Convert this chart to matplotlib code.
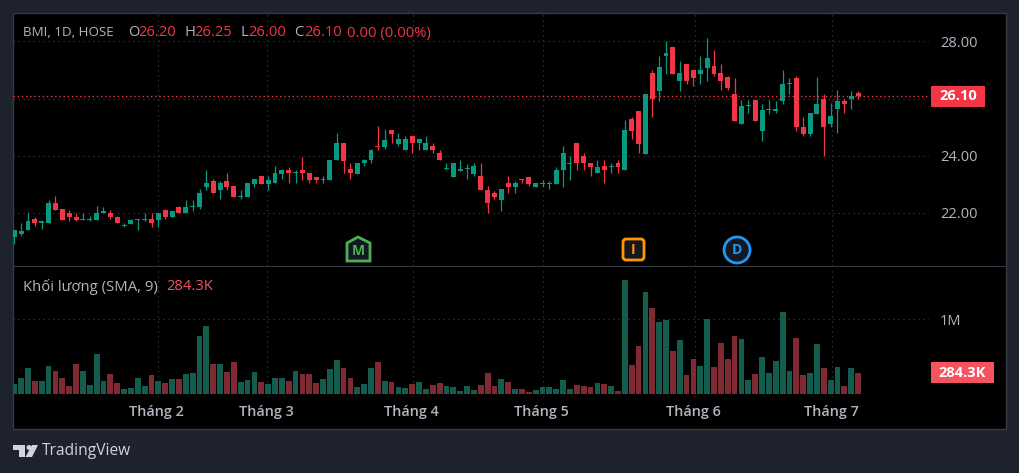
import numpy as np
import matplotlib
matplotlib.use("Agg")
from matplotlib import pyplot as plt
from matplotlib.patches import Rectangle, FancyBboxPatch, Polygon, Ellipse

W, H = 1019, 473

opens = [21.15,21.25,21.4,21.8,21.65,21.65,22.35,22.15,22.0,21.85,21.75,21.75,21.75,22.0,22.0,21.85,21.55,21.6,21.75,21.75,
21.8,21.75,22.1,21.85,22.2,22.0,22.2,22.2,22.9,23.1,22.8,23.1,22.95,22.55,22.55,23.0,23.3,23.0,23.05,23.35,
23.5,23.4,23.5,23.4,23.25,23.15,23.15,23.85,24.45,23.55,23.35,23.75,23.85,24.35,24.3,24.9,24.4,24.2,24.7,24.45,
24.2,24.35,24.1,23.55,23.25,23.45,23.55,23.35,23.3,22.8,22.7,22.45,23.05,22.9,23.2,23.25,22.9,23.0,23.0,23.0,
23.5,23.7,24.45,24.0,23.75,23.4,23.65,23.6,23.75,23.5,25.3,25.55,24.05,26.9,26.25,27.5,27.8,26.6,27.2,27.0,
26.85,27.05,27.15,26.9,26.75,26.15,25.1,25.75,25.95,24.85,25.6,25.55,25.9,26.5,26.7,25.0,24.75,25.45,26.0,25.1,
25.65,25.9,26.0,26.2]
highs = [21.4,21.65,22.0,21.85,21.7,22.45,22.6,22.15,22.1,22.0,22.0,21.9,22.25,22.2,22.1,21.9,21.65,21.8,21.8,22.0,
22.0,22.0,22.15,22.05,22.25,22.45,22.45,22.85,23.5,23.2,23.1,23.4,22.95,22.8,23.05,23.2,23.3,23.3,23.65,23.55,
23.6,23.5,23.95,23.4,23.25,23.3,23.85,24.8,24.45,23.75,23.75,23.9,24.25,25.05,24.95,24.9,24.8,24.7,24.7,24.6,
24.7,24.45,24.2,23.75,23.75,23.85,23.7,23.75,23.75,22.95,22.75,22.85,23.3,23.1,23.2,23.25,23.05,23.15,23.1,23.6,
24.35,24.0,24.45,24.1,23.75,23.85,23.85,23.75,23.85,25.25,25.35,25.55,26.15,27.0,27.5,28.0,27.8,27.3,27.2,27.0,
27.5,28.1,27.7,27.2,26.8,26.7,25.95,25.95,25.95,25.8,25.95,25.9,27.0,26.7,26.8,25.35,25.5,26.75,26.15,25.85,
26.3,26.0,26.25,26.25]
lows = [20.9,21.2,21.4,21.55,21.45,21.65,22.1,21.75,21.7,21.7,21.75,21.7,21.75,22.0,21.8,21.65,21.5,21.6,21.4,21.7,
21.5,21.5,21.8,21.85,22.0,22.0,22.05,22.15,22.8,22.7,22.5,22.8,22.55,22.5,22.55,22.9,23.0,22.8,23.05,23.2,
23.05,23.05,23.15,23.05,23.05,23.05,23.15,23.85,23.4,23.2,23.35,23.65,23.75,24.2,24.25,24.45,24.35,24.2,24.1,24.2,
24.2,24.1,23.85,23.5,23.25,23.45,23.2,23.3,22.8,22.0,22.5,22.05,22.7,22.7,23.05,22.95,22.9,22.9,22.85,23.0,
22.9,23.15,23.5,23.5,23.3,23.4,23.05,23.4,23.4,23.5,24.6,24.1,24.05,25.35,25.9,26.85,26.85,26.25,26.5,26.45,
26.5,26.6,26.8,26.3,26.3,25.2,25.1,25.5,25.2,24.5,25.45,25.5,25.8,26.15,24.85,24.7,24.7,25.45,24.0,25.0,
24.8,25.5,25.65,26.0]
closes = [21.4,21.35,21.7,21.65,21.7,22.35,22.1,21.75,21.85,21.75,21.75,21.8,22.0,22.05,21.85,21.65,21.55,21.75,21.8,21.8,
21.65,22.0,21.85,22.05,22.0,22.2,22.25,22.7,23.05,22.7,23.05,22.9,22.55,22.6,23.05,23.2,23.0,23.15,23.4,23.5,
23.4,23.4,23.4,23.15,23.15,23.2,23.85,24.45,23.8,23.4,23.75,23.85,24.2,24.3,24.55,24.75,24.6,24.6,24.45,24.6,
24.45,24.2,23.85,23.55,23.75,23.55,23.55,23.65,22.8,22.35,22.55,22.85,22.9,23.05,23.15,23.0,23.05,23.05,23.05,23.5,
24.1,23.75,23.75,23.75,23.6,23.6,23.5,23.6,23.6,24.9,24.85,24.4,26.15,26.0,27.1,27.6,26.85,26.9,26.6,26.7,
27.0,27.4,26.85,26.6,26.35,25.2,25.75,25.75,25.2,25.6,25.6,25.65,26.5,26.5,25.0,24.75,25.5,25.8,25.0,25.4,
25.9,25.8,26.1,26.1]
# volume in thousands
volumes = [134,214,348,174,174,375,308,214,107,402,308,121,536,174,268,147,67,80,214,107,
254,174,147,201,201,268,281,777,911,402,402,295,429,161,188,295,161,134,214,214,
174,308,268,268,147,201,335,455,348,214,94,134,348,429,174,161,94,80,134,161,
67,121,147,107,94,40,107,54,121,281,107,201,161,67,67,27,54,94,94,67,
188,67,121,107,94,147,134,107,40,1527,388,643,1366,1152,964,991,576,723,254,469,
375,1004,362,683,469,777,737,188,268,496,281,442,1098,308,750,254,281,670,348,188,
362,107,348,284.3]

price_ticks = [22, 24, 26, 28]
price_labels = ["22.00", "24.00", "", "28.00"]  # 26.00 sits behind the last price tag
month_pos = [20.9, 36.9, 58.1, 77.0, 99.2, 119.2]
month_labels = ["Tháng 2", "Tháng 3", "Tháng 4", "Tháng 5", "Tháng 6", "Tháng 7"]
last_price = 26.10
last_vol = 284.3

FRAME = "#1e222d"
GRID = "#3a3a3a"
TXT = "#b2b5be"
UP = "#089981"
DOWN = "#f23645"
UP_V = "#135c4e"
DOWN_V = "#7f2a33"
ICON_BG = "#131722"
plt.rcParams["font.family"] = ["Open Sans", "DejaVu Sans"]


def px_axes(fig, x0, y0, x1, y1):
    ax = fig.add_axes([x0 / W, 1 - y1 / H, (x1 - x0) / W, (y1 - y0) / H])
    ax.patch.set_alpha(0)
    return ax


def ptext(fig, x, y, s, color=TXT, size=10.7, **kw):
    kw.setdefault("va", "center")
    return fig.text(x / W, 1 - y / H, s, color=color, fontsize=size, **kw)


def pxs(pts):
    return [(a / W, 1 - b / H) for a, b in pts]


def draw_candles(ax):
    for i in range(len(opens)):
        c = UP if closes[i] >= opens[i] else DOWN
        ax.vlines(i, lows[i], highs[i], color=c, lw=0.9, zorder=3)
        lo = min(opens[i], closes[i])
        hi = max(opens[i], closes[i])
        ax.add_patch(Rectangle((i - 0.36, lo), 0.72, max(hi - lo, 0.035), fc=c, ec="none", zorder=4))


def draw_volume(ax):
    cols = [UP_V if closes[i] >= opens[i] else DOWN_V for i in range(len(opens))]
    ax.bar(range(len(volumes)), np.array(volumes) / 1000, width=0.84, color=cols, zorder=3)


def style_pane(ax):
    for s in ax.spines.values():
        s.set_visible(False)
    ax.tick_params(length=0)
    ax.set_xticks(month_pos)
    ax.set_xticklabels([])
    ax.grid(True, color=GRID, lw=0.9, linestyle=(0, (1, 3)), zorder=0)
    ax.set_axisbelow(True)


def draw_logo(fig):
    c = "#d1d4dc"
    tf = fig.transFigure
    fig.add_artist(Polygon(pxs([(13, 445), (25, 445), (25, 457), (19, 457), (19, 450), (13, 450)]), closed=True, fc=c, ec="none", transform=tf))
    fig.add_artist(Ellipse((29 / W, 1 - 447.5 / H), 5 / W, 5 / H, fc=c, ec="none", transform=tf))
    fig.add_artist(Polygon(pxs([(32, 445), (38, 445), (32, 457), (25.5, 457)]), closed=True, fc=c, ec="none", transform=tf))


def main():
    fig = plt.figure(figsize=(W / 100, H / 100), dpi=100, facecolor=FRAME)
    tf = fig.transFigure
    # black chart area with thin border, behind the panes
    fig.add_artist(Rectangle((12.5 / W, 1 - 429 / H), 993.5 / W, 416 / H, fc="black", ec="#363a45", lw=1,
                             transform=tf, zorder=-5))

    ax = px_axes(fig, 13, 14, 929, 266)
    vx = px_axes(fig, 13, 267, 929, 397)
    style_pane(ax)
    style_pane(vx)
    x0 = (13 - 14.3) / 6.86
    x1 = (929 - 14.3) / 6.86
    ax.set_xlim(x0, x1)
    vx.set_xlim(x0, x1)
    ax.set_ylim(28 - (266 - 41.3) / 28.6, 28 + (41.3 - 14) / 28.6)
    vx.set_ylim(-3 / 74.7, 127 / 74.7)

    ax.set_yticks(price_ticks)
    ax.yaxis.tick_right()
    ax.set_yticklabels(price_labels, color=TXT, fontsize=10.5)
    ax.tick_params(axis="y", pad=8)
    vx.set_yticks([1])
    vx.yaxis.tick_right()
    vx.set_yticklabels(["1M"], color=TXT, fontsize=10.5)
    vx.tick_params(axis="y", pad=8)

    draw_candles(ax)
    draw_volume(vx)
    ax.axhline(last_price, color=DOWN, lw=1, linestyle=(0, (1, 2)), zorder=5)

    # pane separator
    fig.add_artist(Rectangle((13 / W, 1 - 267 / H), 993 / W, 1 / H, fc="#363a45", ec="none", transform=tf))

    for p, s in zip(month_pos, month_labels):
        vx.annotate(s, (p - 0.15, 0), xycoords=("data", "axes fraction"), xytext=(0, -10.5), textcoords="offset points",
                    ha="center", va="center", color=TXT, fontsize=10.4, fontweight="semibold", annotation_clip=False)

    # legend rows
    ptext(fig, 23, 33, "BMI, 1D, HOSE", size=9.6)
    for x, s, col in [(128, "O", TXT), (138, "26.20", DOWN), (184, "H", TXT), (194, "26.25", DOWN),
                      (240, "L", TXT), (248, "26.00", DOWN), (294, "C", TXT), (304, "26.10", DOWN),
                      (347, "0.00 (0.00%)", DOWN)]:
        ptext(fig, x, 33, s, color=col, size=10.6)
    ptext(fig, 23, 287, "Khối lượng (SMA, 9)")
    ptext(fig, 166, 287, "284.3K", color="#f7525f", size=10.6)

    # last value tags
    fig.add_artist(Rectangle((931 / W, 1 - 107 / H), 54 / W, 21 / H, fc=DOWN, ec="none", transform=tf))
    ptext(fig, 958, 96.5, "%.2f" % last_price, color="white", size=10.5, ha="center", fontweight="bold")
    fig.add_artist(Rectangle((931 / W, 1 - 383 / H), 63 / W, 21 / H, fc="#f7525f", ec="none", transform=tf))
    ptext(fig, 962.5, 372.5, "%.1fK" % last_vol, color="white", size=10.5, ha="center", fontweight="bold")

    # event markers
    m = [(347, 243), (358, 237), (370, 243), (370, 261), (347, 261)]
    fig.add_artist(Polygon(pxs(m), closed=True, fc=ICON_BG, ec="#4caf50", lw=2, transform=tf))
    ptext(fig, 358.5, 251, "M", color="#4caf50", size=10, ha="center", fontweight="bold")
    fig.add_artist(FancyBboxPatch((623 / W, 1 - 260 / H), 21 / W, 21 / H, boxstyle="round,pad=0,rounding_size=0.003",
                                  fc=ICON_BG, ec="#ff9800", lw=2, transform=tf, mutation_aspect=W / H))
    ptext(fig, 633.5, 250, "I", color="#ff9800", size=10, ha="center", fontweight="bold")
    fig.add_artist(Ellipse((737 / W, 1 - 250 / H), 26 / W, 26 / H, fc=ICON_BG, ec="#2196f3", lw=2, transform=tf))
    ptext(fig, 737, 250, "D", color="#2196f3", size=10, ha="center", fontweight="bold")

    draw_logo(fig)
    ptext(fig, 42, 451, "TradingView", color="#d1d4dc", size=11.2)

    fig.savefig("out.png", dpi=100, facecolor=FRAME)


main()
